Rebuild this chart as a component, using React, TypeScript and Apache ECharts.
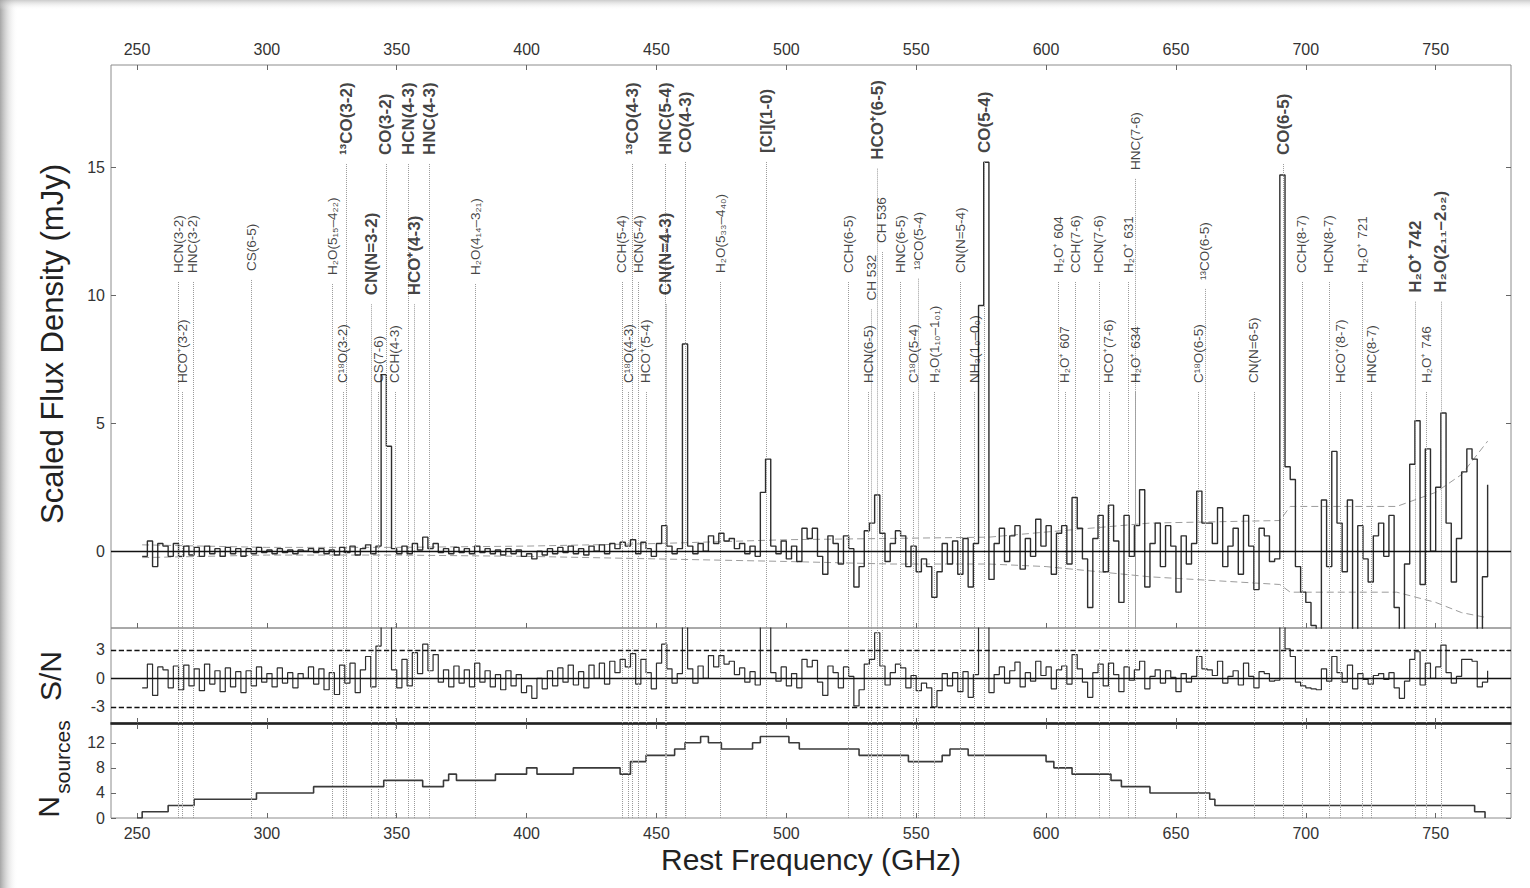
import React, { useEffect, useRef } from "react";
import * as echarts from "echarts";

const FONT = '"Liberation Sans", Arial, Helvetica, sans-serif';

// regular frequency grid of the stacked spectrum (GHz)
const SPEC_START = 252;
const SPEC_STEP = 2;

// Scaled flux density (mJy), one value per 2 GHz bin from 252 to 770 GHz
const specValues = [
  -0.2, 0.4, -0.6, 0.3, 0.2, -0.2, 0.3, -0.2, 0.2, -0.15, // 252-270
  0.15, -0.2, 0.2, -0.1, 0.1, -0.2, 0.15, -0.1, 0.1, -0.2, // 272-290
  0.1, -0.1, 0.15, -0.05, 0.05, -0.1, 0.1, -0.05, 0.05, -0.1, // 292-310
  0.05, 0.0, 0.1, -0.05, 0.1, -0.1, 0.05, -0.15, 0.15, -0.05, // 312-330
  0.2, -0.15, 0.1, 0.25, -0.1, 0.2, 6.9, 4.1, 0.1, -0.1, // 332-350
  0.2, -0.1, 0.3, 0.05, 0.55, 0.1, 0.3, -0.05, 0.1, -0.1, // 352-370
  0.15, -0.05, 0.1, -0.1, 0.2, -0.05, 0.1, -0.1, 0.05, -0.15, // 372-390
  0.1, -0.1, 0.05, -0.2, -0.1, -0.3, 0.0, -0.15, 0.1, -0.1, // 392-410
  0.15, -0.05, 0.2, -0.1, 0.1, -0.15, 0.2, 0.0, 0.25, -0.1, // 412-430
  0.3, 0.1, 0.35, 0.2, 0.45, -0.1, 0.35, 0.1, -0.2, 0.3, // 432-450
  1.0, 0.2, -0.1, 0.1, 8.1, 0.2, -0.1, 0.3, 0.0, 0.6, // 452-470
  0.3, 0.7, 0.4, 0.5, 0.1, 0.3, -0.1, 0.2, -0.2, 2.3, // 472-490
  3.6, 0.2, -0.1, 0.4, -0.3, 0.2, -0.4, 0.9, 0.5, 0.9, // 492-510
  -0.2, -0.9, 0.6, 0.3, -0.5, 0.6, 0.1, -1.4, -0.6, 0.8, // 512-530
  1.1, 2.2, 0.7, -0.4, 0.3, 0.8, 0.6, -0.6, 0.2, -0.8, // 532-550
  -0.3, -0.6, -1.8, -0.8, 0.3, -0.5, 0.4, -0.9, 0.5, -1.4, // 552-570
  0.3, 9.6, 15.2, -1.1, 0.3, 0.9, -0.4, 0.6, 1.0, -0.7, // 572-590
  0.5, -0.2, 1.25, 0.2, 1.0, -0.9, 0.7, 1.0, -0.5, 2.1, // 592-610
  0.9, -0.3, -2.2, 0.5, 1.4, -0.8, 1.8, 0.4, -2.0, 1.4, // 612-630
  -0.2, 1.0, 2.4, -1.4, 0.3, 1.1, -0.6, 1.0, 0.2, -1.6, // 632-650
  0.6, -0.5, 0.3, 2.35, 1.1, 1.1, 0.3, 1.7, -0.6, 0.2, // 652-670
  0.9, -0.9, 1.4, 0.2, -1.5, 0.9, 0.6, -0.4, -0.3, 14.7, // 672-690
  3.3, 2.8, -0.6, -1.6, -2.0, -2.9, -3.3, 2.0, -0.6, 3.9, // 692-710
  1.1, -0.8, 2.0, -3.2, 1.0, -0.3, -1.2, 0.6, 1.1, -0.2, // 712-730
  1.4, -2.2, -3.2, -0.5, 3.4, 5.1, -1.3, 4.0, 0.0, 2.5, // 732-750
  5.4, 1.1, -1.2, 0.5, 3.1, 4.0, 3.6, -3.2, -1.0, 2.6, // 752-770
];

// Signal-to-noise, same frequency grid
const snValues = [
  -1.0, 1.5, -1.8, 1.2, 0.9, -1.0, 1.3, -1.2, 1.4, -0.8,
  1.0, -1.3, 1.5, -0.6, 0.8, -1.4, 1.1, -0.9, 0.7, -1.5,
  0.8, -0.8, 1.2, -0.4, 0.5, -0.9, 1.1, -0.5, 0.6, -1.0,
  0.5, 0.0, 1.2, -0.6, 1.0, -1.2, 0.6, -1.7, 1.4, -0.5,
  1.6, -1.5, 0.9, 2.3, -0.9, 3.4, 5.8, 5.8, 0.9, -1.0,
  2.0, -0.8, 2.7, 0.5, 3.6, 0.8, 2.5, -0.4, 0.9, -0.9,
  1.3, -0.5, 0.9, -0.9, 1.6, -0.4, 0.8, -0.9, 0.4, -1.2,
  0.8, -0.8, 0.4, -1.5, -0.8, -2.1, 0.0, -1.1, 0.8, -0.8,
  1.1, -0.4, 1.4, -0.7, 0.7, -1.0, 1.4, 0.0, 1.6, -0.6,
  1.8, 0.6, 2.0, 1.2, 2.6, -0.6, 2.0, 0.6, -1.1, 1.6,
  3.6, 1.0, -0.5, 0.5, 5.8, 1.0, -0.5, 1.3, 0.0, 2.4,
  1.2, 2.4, 1.5, 1.8, 0.4, 1.1, -0.4, 0.7, -0.7, 5.8,
  5.8, 0.6, -0.3, 1.2, -0.8, 0.5, -1.0, 2.0, 1.2, 1.9,
  -0.4, -1.8, 1.3, 0.6, -1.0, 1.2, 0.2, -2.9, -1.2, 1.5,
  2.0, 4.8, 1.3, -0.7, 0.6, 1.5, 1.1, -1.0, 0.3, -1.3,
  -0.5, -1.0, -3.0, -1.3, 0.5, -0.8, 0.6, -1.4, 0.7, -2.0,
  0.4, 5.8, 5.8, -1.5, 0.4, 1.2, -0.5, 0.8, 1.7, -0.9,
  0.6, -0.3, 1.8, 0.3, 1.2, -1.1, 0.9, 1.3, -0.6, 2.5,
  1.0, -0.4, -2.0, 0.6, 1.5, -0.8, 1.6, 0.4, -1.4, 1.2,
  -0.2, 0.9, 1.8, -1.1, 0.2, 0.9, -0.5, 0.8, 0.1, -1.4,
  0.5, -0.4, 0.2, 2.3, 1.0, 0.9, 0.3, 1.8, -0.5, 0.2,
  0.8, -0.7, 1.6, 0.2, -1.0, 0.7, 0.5, -0.3, -0.2, 5.8,
  3.1, 2.3, -0.4, -0.8, -1.0, -1.1, -1.2, 1.0, -0.3, 2.3,
  0.6, -0.4, 1.4, -1.1, 0.5, -0.1, -0.6, 0.3, 0.5, -0.1,
  0.6, -1.0, -2.1, -0.3, 2.0, 2.8, -0.7, 1.6, 0.0, 1.2,
  3.5, 0.6, -0.5, 0.2, 2.0, 2.0, 1.8, -0.9, -0.4, 0.8,
];

// 1-sigma envelope of the stack (mJy)
const envFreq = [252, 300, 350, 400, 450, 500, 540, 578, 600, 640, 690, 694, 735, 750, 760, 770];
const envUpper = [0.25, 0.15, 0.15, 0.2, 0.3, 0.45, 0.5, 0.55, 0.75, 1.1, 1.2, 1.75, 1.75, 2.3, 3.0, 4.3];
const envLower = [-0.25, -0.15, -0.15, -0.2, -0.3, -0.4, -0.5, -0.5, -0.6, -1.0, -1.3, -1.6, -1.6, -2.0, -2.4, -2.6];

// number of sources contributing (step changes)
const nFreq = [250, 252, 262, 272, 296, 318, 345, 360, 368, 370, 373, 388, 400, 404, 418, 436, 440, 446, 457, 461,
  467, 470, 475, 487, 490, 501, 505, 528, 547, 560, 563, 570, 600, 603, 610, 625, 629, 640, 663, 665, 765, 769];
const nValues = [0, 1, 2, 3, 4, 5, 6, 5, 6, 7, 6, 7, 8, 7, 8, 7, 9, 10, 11, 12,
  13, 12, 11, 12, 13, 12, 11, 10, 9, 10, 11, 10, 9, 8, 7, 6, 5, 4, 3, 2, 1, 0];

// transitions: [label, rest frequency GHz, bold]
const transitions: [string, number, number][] = [
  ["¹³CO(3-2)", 330.6, 1], ["CO(3-2)", 345.8, 1], ["HCN(4-3)", 354.5, 1], ["HNC(4-3)", 362.6, 1],
  ["¹³CO(4-3)", 440.8, 1], ["HNC(5-4)", 453.3, 1], ["CO(4-3)", 461.0, 1], ["[CI](1-0)", 492.2, 1],
  ["HCO⁺(6-5)", 535.1, 1], ["CO(5-4)", 576.3, 1], ["CO(6-5)", 691.5, 1],
  ["HCN(3-2)", 265.9, 0], ["HNC(3-2)", 271.5, 0], ["CS(6-5)", 293.9, 0], ["H₂O(5₁₅–4₂₂)", 325.2, 0],
  ["CN(N=3-2)", 340.2, 1], ["HCO⁺(4-3)", 356.7, 1], ["H₂O(4₁₄–3₂₁)", 380.2, 0], ["CCH(5-4)", 436.7, 0],
  ["HCN(5-4)", 443.1, 0], ["CN(N=4-3)", 453.6, 1], ["H₂O(5₃₃–4₄₀)", 474.7, 0], ["CCH(6-5)", 523.9, 0],
  ["CH 532", 532.7, 0], ["CH 536", 536.8, 0], ["HNC(6-5)", 543.9, 0], ["¹³CO(5-4)", 550.9, 0],
  ["CN(N=5-4)", 566.9, 0], ["H₂O⁺ 604", 604.7, 0], ["CCH(7-6)", 611.3, 0], ["HCN(7-6)", 620.3, 0],
  ["H₂O⁺ 631", 631.7, 0], ["HNC(7-6)", 634.5, 0], ["¹³CO(6-5)", 661.1, 0], ["CCH(8-7)", 698.5, 0],
  ["HCN(8-7)", 708.9, 0], ["H₂O⁺ 721", 721.9, 0], ["H₂O⁺ 742", 742.1, 1], ["H₂O(2₁₁–2₀₂)", 752.0, 1],
  ["HCO⁺(3-2)", 267.6, 0], ["C¹⁸O(3-2)", 329.3, 0], ["CS(7-6)", 342.9, 0], ["CCH(4-3)", 349.3, 0],
  ["C¹⁸O(4-3)", 439.1, 0], ["HCO⁺(5-4)", 445.9, 0], ["HCN(6-5)", 531.7, 0], ["C¹⁸O(5-4)", 548.8, 0],
  ["H₂O(1₁₀–1₀₁)", 556.9, 0], ["NH₃(1₀–0₀)", 572.5, 0], ["H₂O⁺ 607", 607.2, 0], ["HCO⁺(7-6)", 624.2, 0],
  ["H₂O⁺ 634", 634.3, 0], ["C¹⁸O(6-5)", 658.5, 0], ["CN(N=6-5)", 680.0, 0], ["HCO⁺(8-7)", 713.3, 0],
  ["HNC(8-7)", 725.1, 0], ["H₂O⁺ 746", 746.5, 0],
];

// layout: height (in mJy units) of the foot of each rotated label
const labelBase = [
  15.48, 15.48, 15.48, 15.48, 15.48, 15.48, 15.56, 15.56, 15.3, 15.56, 15.48,
  10.87, 10.87, 10.95, 10.79, 10.0, 10.0, 10.79, 10.87, 10.87, 10.0, 10.87, 10.87, 9.8, 12.04,
  10.87, 11.0, 10.87, 10.87, 10.87, 10.87, 10.87, 14.9, 10.6, 10.87, 10.87, 10.87, 10.1, 10.1,
  6.57, 6.57, 6.57, 6.57, 6.57, 6.57, 6.57, 6.57, 6.57, 6.57, 6.57, 6.57, 6.57, 6.57, 6.57, 6.57, 6.57, 6.57,
];

const xTicks = [250, 300, 350, 400, 450, 500, 550, 600, 650, 700, 750];
const fluxTicks = [0, 5, 10, 15];
const snTicks = [-3, 0, 3];
const nTicks = [0, 4, 8, 12];

export default function App() {
  const ref = useRef<HTMLDivElement>(null);

  useEffect(() => {
    if (!ref.current) return;
    const chart = echarts.init(ref.current, null, { renderer: "svg" });

    const specData = specValues.map((v, i) => [SPEC_START + i * SPEC_STEP, v]);
    const snData = snValues.map((v, i) => [SPEC_START + i * SPEC_STEP, v]);
    const upData = envFreq.map((f, i) => [f, envUpper[i]]);
    const loData = envFreq.map((f, i) => [f, envLower[i]]);
    const nData = nFreq.map((f, i) => [f, nValues[i]]);

    const dotted = { type: "dotted" as const, color: "#9a9a9a", width: 1 };
    const topDots = transitions.map((t, i) => [
      { coord: [t[1], labelBase[i] - 0.35] },
      { coord: [t[1], -3] },
    ]);
    const fullDots = transitions.map((t) => ({ xAxis: t[1] }));

    const labelData = transitions.map(([name, f, bold], i) => ({
      name,
      value: [f, labelBase[i]],
      label: {
        fontSize: bold ? 17 : 13.5,
        fontWeight: bold ? "bold" : "normal",
      },
    }));

    const tickStyle = { color: "#666", width: 1 };
    const darkLine = { show: true, onZero: false, lineStyle: { color: "#1a1a1a", width: 1.6 } };
    const mkX = (grid: number, pos: string, extra: any = {}) => ({
      type: "value",
      gridIndex: grid,
      min: 240,
      max: 779,
      position: pos,
      axisLine: { show: false, onZero: false },
      axisTick: { show: true, inside: true, length: 5, customValues: xTicks, lineStyle: tickStyle },
      axisLabel: { show: false },
      splitLine: { show: false },
      ...extra,
    });
    const mkY = (grid: number, min: number, max: number, ticks: number[], pos: string) => ({
      type: "value",
      gridIndex: grid,
      min,
      max,
      position: pos,
      axisLine: { show: false, onZero: false },
      axisTick: { show: true, inside: true, length: 5, customValues: ticks, lineStyle: tickStyle },
      axisLabel:
        pos === "left"
          ? { customValues: ticks, fontSize: 16, color: "#333", fontFamily: FONT, margin: 6 }
          : { show: false },
      splitLine: { show: false },
    });

    const rotText = (text: string, x: number, y: number, size: number) => ({
      type: "text",
      x,
      y,
      rotation: Math.PI / 2,
      style: {
        text,
        fontSize: size,
        fontFamily: FONT,
        fill: "#222",
        align: "center",
        verticalAlign: "middle",
        textAlign: "center",
        textVerticalAlign: "middle",
      },
    });

    const option: any = {
      animation: false,
      backgroundColor: "#ffffff",
      grid: [
        { left: 111, top: 65, width: 1400, height: 563, show: true, borderColor: "#8c8c8c", borderWidth: 1 },
        { left: 111, top: 628, width: 1400, height: 95, show: true, borderColor: "#8c8c8c", borderWidth: 1 },
        { left: 111, top: 724, width: 1400, height: 94, show: true, borderColor: "#8c8c8c", borderWidth: 1 },
      ],
      xAxis: [
        mkX(0, "top", {
          axisLabel: { show: true, customValues: xTicks, fontSize: 16, color: "#333", fontFamily: FONT, margin: 8 },
        }),
        mkX(0, "bottom"),
        mkX(1, "bottom", { axisLine: darkLine }),
        mkX(2, "bottom", {
          axisLabel: { show: true, customValues: xTicks, fontSize: 16, color: "#333", fontFamily: FONT, margin: 7 },
          name: "Rest Frequency (GHz)",
          nameLocation: "middle",
          nameGap: 26,
          nameTextStyle: { fontSize: 30, color: "#222", fontFamily: FONT },
        }),
        mkX(2, "top", { axisLine: darkLine }),
      ],
      yAxis: [
        mkY(0, -3, 19, fluxTicks, "left"),
        mkY(1, -4.7, 5.3, snTicks, "left"),
        mkY(2, 0, 15, nTicks, "left"),
        mkY(0, -3, 19, fluxTicks, "right"),
        mkY(1, -4.7, 5.3, snTicks, "right"),
        mkY(2, 0, 15, nTicks, "right"),
      ],
      graphic: [
        {
          type: "rect",
          silent: true,
          z: -10,
          shape: { x: 0, y: 0, width: 18, height: 888 },
          style: {
            fill: new echarts.graphic.LinearGradient(0, 0, 1, 0, [
              { offset: 0, color: "rgba(150,150,150,0.85)" },
              { offset: 1, color: "rgba(255,255,255,0)" },
            ]),
          },
        },
        {
          type: "rect",
          silent: true,
          z: -10,
          shape: { x: 0, y: 0, width: 1530, height: 10 },
          style: {
            fill: new echarts.graphic.LinearGradient(0, 0, 0, 1, [
              { offset: 0, color: "rgba(170,170,170,0.6)" },
              { offset: 1, color: "rgba(255,255,255,0)" },
            ]),
          },
        },
        rotText("Scaled Flux Density (mJy)", 52, 344, 31),
        rotText("S/N", 50, 676, 30),
        rotText("N", 48, 807, 30),
        rotText("sources", 62, 757, 21),
      ],
      series: [
        {
          name: "envelope+",
          type: "line",
          xAxisIndex: 0,
          yAxisIndex: 0,
          data: upData,
          symbol: "none",
          z: 1,
          lineStyle: { color: "#9c9c9c", width: 1, type: [7, 4] },
          markLine: {
            silent: true,
            symbol: ["none", "none"],
            label: { show: false },
            lineStyle: dotted,
            data: topDots,
          },
        },
        {
          name: "envelope-",
          type: "line",
          xAxisIndex: 0,
          yAxisIndex: 0,
          data: loData,
          symbol: "none",
          z: 1,
          lineStyle: { color: "#9c9c9c", width: 1, type: [7, 4] },
        },
        {
          name: "stack",
          type: "line",
          xAxisIndex: 0,
          yAxisIndex: 0,
          step: "end",
          data: specData,
          symbol: "none",
          z: 3,
          lineStyle: { color: "#2e2e2e", width: 1.4 },
          markLine: {
            silent: true,
            symbol: ["none", "none"],
            label: { show: false },
            data: [{ yAxis: 0, lineStyle: { type: "solid", color: "#111", width: 1.4 } }],
          },
        },
        {
          name: "labels",
          type: "scatter",
          xAxisIndex: 0,
          yAxisIndex: 0,
          data: labelData,
          symbolSize: 0.1,
          itemStyle: { color: "transparent" },
          silent: true,
          z: 6,
          label: {
            show: true,
            formatter: "{b}",
            rotate: 90,
            position: "inside",
            align: "left",
            verticalAlign: "middle",
            color: "#111",
            fontFamily: FONT,
          },
        },
        {
          name: "S/N",
          type: "line",
          xAxisIndex: 2,
          yAxisIndex: 1,
          step: "end",
          data: snData,
          symbol: "none",
          z: 3,
          lineStyle: { color: "#2e2e2e", width: 1.2 },
          markLine: {
            silent: true,
            symbol: ["none", "none"],
            label: { show: false },
            lineStyle: dotted,
            data: [
              ...fullDots,
              { yAxis: 3, lineStyle: { type: "dashed", color: "#111", width: 1.3 } },
              { yAxis: -3, lineStyle: { type: "dashed", color: "#111", width: 1.3 } },
              { yAxis: 0, lineStyle: { type: "solid", color: "#111", width: 1.4 } },
            ],
          },
        },
        {
          name: "Nsources",
          type: "line",
          xAxisIndex: 3,
          yAxisIndex: 2,
          step: "end",
          data: nData,
          symbol: "none",
          z: 3,
          lineStyle: { color: "#3a3a3a", width: 1.6 },
          markLine: {
            silent: true,
            symbol: ["none", "none"],
            label: { show: false },
            lineStyle: dotted,
            data: fullDots,
          },
        },
      ],
    };

    chart.setOption(option);
    return () => chart.dispose();
  }, []);

  return (
    <div
      ref={ref}
      style={{ position: "absolute", left: 0, top: 0, width: 1530, height: 888, background: "#fff" }}
    />
  );
}
